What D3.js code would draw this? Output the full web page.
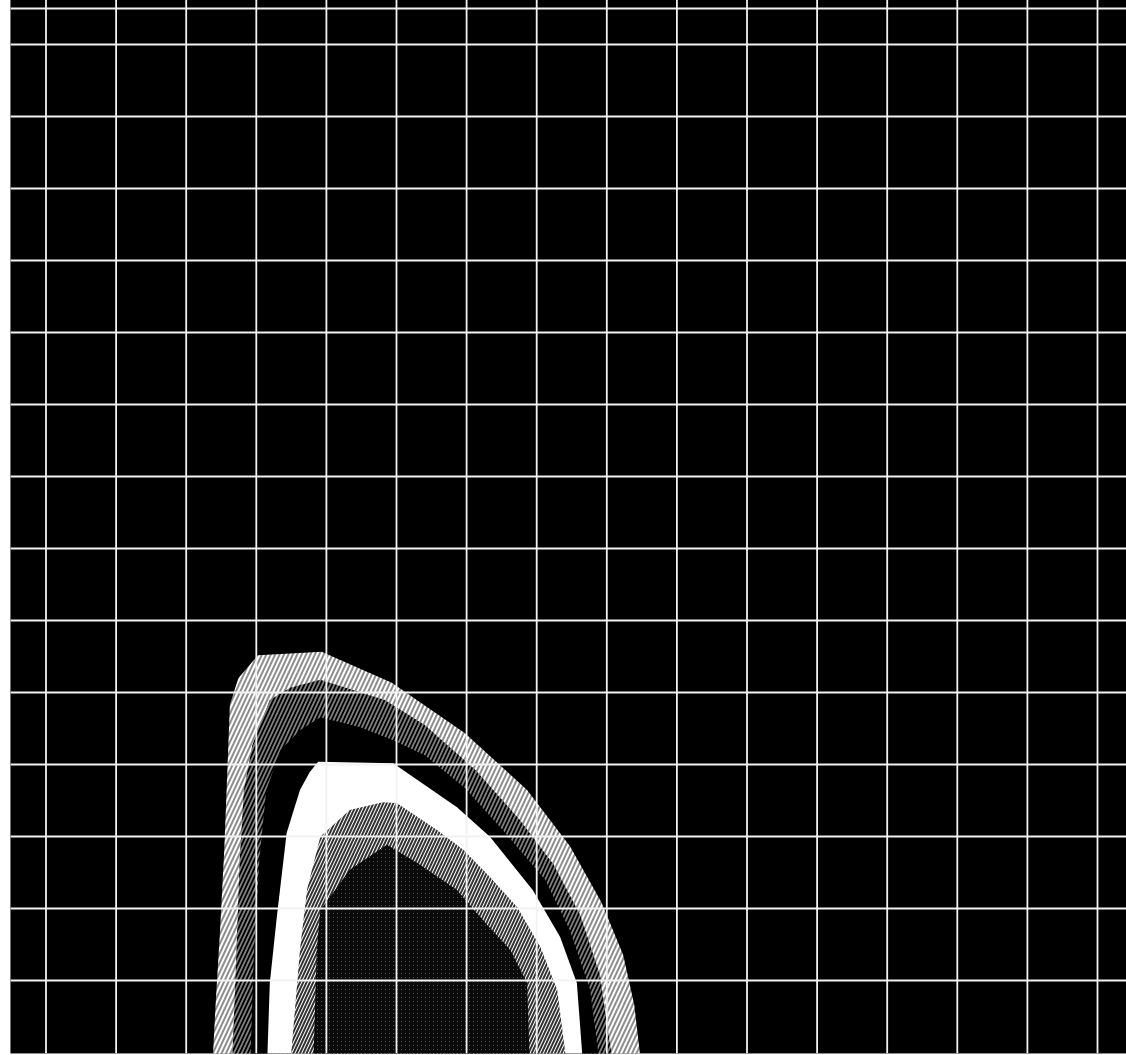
<!DOCTYPE html>
<html>
<head>
<meta charset="utf-8">
<script src="https://cdn.jsdelivr.net/npm/d3@7"></script>
<style>
  html, body { margin: 0; padding: 0; background: #fff; }
  svg { display: block; }
</style>
</head>
<body>
<div id="chart"></div>
<script>
// grid positions (in grid units)
const gridX = [0, 1, 2, 3, 4, 5, 6, 7, 8, 9, 10, 11, 12, 13, 14, 15];
const gridY = [1, 2, 3, 4, 5, 6, 7, 8, 9, 10, 11, 12, 13, 14, 14.5];

// contour levels, outer to inner, as [x, y] in grid units
const contourOuter = [[2.38,-0.2],[2.43,0.72],[2.49,1.69],[2.55,2.81],[2.6,4.06],[2.63,4.82],[2.75,5.19],[3.03,5.51],[3.94,5.56],[4.94,5.13],[5.98,4.43],[6.87,3.64],[7.48,2.86],[7.93,2.08],[8.24,1.35],[8.4,0.65],[8.5,-0.2]];
const contourSecond = [[2.66,-0.2],[2.72,1.28],[2.77,2.67],[2.83,3.64],[2.95,4.26],[3.2,4.89],[3.49,5.06],[3.92,5.17],[4.84,4.89],[5.41,4.54],[6.13,3.92],[6.77,3.22],[7.25,2.6],[7.63,1.9],[7.91,1.07],[8.1,-0.2]];
const contourThird = [[2.92,-0.2],[2.97,1.28],[3.05,2.67],[3.15,3.64],[3.35,4.19],[3.63,4.47],[3.92,4.65],[4.49,4.51],[4.96,4.33],[5.41,4.12],[5.98,3.67],[6.56,3.04],[7.13,2.39],[7.48,1.69],[7.77,0.86],[7.91,-0.2]];
const contourFourth = [[3.16,-0.2],[3.2,0.96],[3.3,1.88],[3.44,3.04],[3.63,3.64],[3.77,3.89],[3.89,4.03],[4.96,4.01],[5.87,3.4],[6.34,2.99],[6.95,2.25],[7.34,1.6],[7.58,0.96],[7.67,-0.2]];
const contourFifth = [[3.49,-0.2],[3.63,1.42],[3.73,2.25],[3.92,2.99],[4.34,3.36],[4.81,3.47],[5.01,3.46],[5.59,3.08],[5.96,2.81],[6.34,2.43],[6.73,2.01],[7.06,1.46],[7.3,0.86],[7.44,-0.2]];
const contourInner = [[3.82,-0.2],[3.87,1.42],[3.92,1.97],[4.34,2.53],[4.87,2.88],[5.3,2.63],[5.87,2.25],[6.24,1.83],[6.63,1.42],[6.87,0.96],[6.91,-0.2]];

const levels = [
  {pts: contourOuter, fill: "url(#lightHatch)"},
  {pts: contourSecond, fill: "url(#darkHatch)"},
  {pts: contourThird, fill: "#000"},
  {pts: contourFourth, fill: "#fff"},
  {pts: contourFifth, fill: "url(#midHatch)"},
  {pts: contourInner, fill: "url(#coreDots)"}
];

const W = 1126, H = 1055;

const svg = d3.select("#chart")
  .append("svg")
  .attr("width", W)
  .attr("height", H);

const x = d3.scaleLinear().domain([0, 15]).range([45.5, 1097]);
const y = d3.scaleLinear().domain([0, 14]).range([1052, 44]);

const plotLeft = x(-0.5), plotTop = y(14.62), plotBottom = y(-0.02);

// hatch patterns
const defs = svg.append("defs");
function hatch(id, bg, fg, size, sw, angle) {
  const p = defs.append("pattern")
    .attr("id", id)
    .attr("patternUnits", "userSpaceOnUse")
    .attr("width", size).attr("height", size)
    .attr("patternTransform", `rotate(${angle})`);
  p.append("rect").attr("width", size).attr("height", size).attr("fill", bg);
  p.append("line")
    .attr("x1", size / 2).attr("y1", 0)
    .attr("x2", size / 2).attr("y2", size)
    .attr("stroke", fg).attr("stroke-width", sw);
}
hatch("lightHatch", "#fff", "#000", 4, 0.9, 25);
hatch("darkHatch", "#000", "#fff", 3.6, 0.9, 25);
hatch("midHatch", "#000", "#fff", 3, 1.4, 25);

const dots = defs.append("pattern")
  .attr("id", "coreDots")
  .attr("patternUnits", "userSpaceOnUse")
  .attr("width", 4).attr("height", 4);
dots.append("rect").attr("width", 4).attr("height", 4).attr("fill", "#0a0a0a");
dots.append("rect").attr("x", 1).attr("y", 1).attr("width", 1).attr("height", 1).attr("fill", "#555");

defs.append("clipPath").attr("id", "plotClip")
  .append("rect")
  .attr("x", plotLeft).attr("y", plotTop)
  .attr("width", W - plotLeft).attr("height", plotBottom - plotTop);

// black plot background
svg.append("rect")
  .attr("x", plotLeft).attr("y", plotTop)
  .attr("width", W - plotLeft).attr("height", plotBottom - plotTop)
  .attr("fill", "#000");

// contour bands
const line = d3.line()
  .x(d => x(d[0]))
  .y(d => y(d[1]));

svg.append("g")
  .attr("clip-path", "url(#plotClip)")
  .selectAll("path")
  .data(levels)
  .join("path")
  .attr("d", d => line(d.pts) + "Z")
  .attr("fill", d => d.fill);

// grid lines from the axes
const grid = svg.append("g").attr("clip-path", "url(#plotClip)");

const gx = grid.append("g")
  .attr("transform", `translate(0, ${plotBottom})`)
  .call(d3.axisBottom(x).tickValues(gridX).tickSize(-(plotBottom - plotTop)).tickFormat(""));

const gy = grid.append("g")
  .attr("transform", `translate(${plotLeft}, 0)`)
  .call(d3.axisLeft(y).tickValues(gridY).tickSize(-(W - plotLeft)).tickFormat(""));

[gx, gy].forEach(g => {
  g.select(".domain").remove();
  g.selectAll("line")
    .attr("stroke", "#f2f2f2")
    .attr("stroke-width", 1.8);
});
</script>
</body>
</html>
